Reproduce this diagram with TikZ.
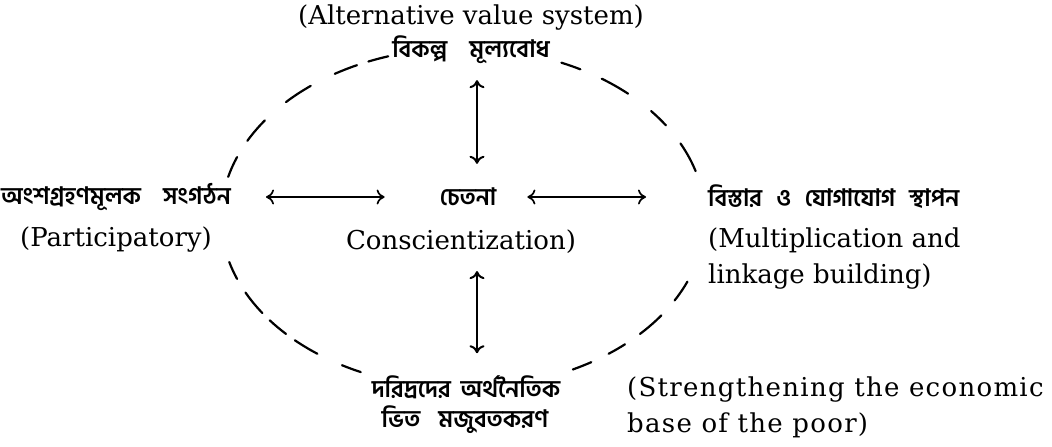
\documentclass[tikz,border=0pt]{standalone}
\usepackage{fontspec}
\setmainfont{DejaVu Serif}
\newfontfamily\bn[Script=Bengali]{Hind Siliguri}
\newfontfamily\wide[LetterSpace=5]{DejaVu Serif}
\usetikzlibrary{arrows.meta}
\begin{document}
\begin{tikzpicture}[x=1pt,y=1pt,
  en/.style={font=\fontsize{26}{30}\selectfont, inner sep=2pt},
  enw/.style={font=\wide\fontsize{26}{30}\selectfont, inner sep=2pt},
  bng/.style={font=\bn\bfseries\fontsize{24}{28}\selectfont, inner sep=2pt},
  dsh/.style={line width=2.2pt, line cap=round},
  link/.style={line width=2pt, {Computer Modern Rightarrow[length=8pt,width=15pt]}-{Computer Modern Rightarrow[length=8pt,width=15pt]}},
]
\useasboundingbox (0,0) rectangle (1052,447);
\coordinate (c) at (463,229);
% dashed hand-drawn ellipse
\foreach \a/\b in {61/66, 47/55, 33/39, 16/26, -29/-22, -43/-35, -53/-48, -63/-58,
  -120/-115, -134/-127, -143/-137, -154/-146, -165/-159,
  159/166, 145/153, 129/137, 116/122, 108/113}
  \draw[dsh] ([shift={(\a:242 and 170)}]c) arc[start angle=\a, end angle=\b, x radius=242, y radius=170];

\node[en] (title) at (471,429) {(Alternative value system)};
\node[bng] (top) at (471,397) {বিকল্প\hspace{22pt}মূল্যবোধ};

\node[bng] (leftB) at (116,250) {অংশগ্রহণমূলক\hspace{22pt}সংগঠন};
\node[en] (leftE) at (116,207) {(Participatory)};

\node[bng] (cenB) at (468,250) {চেতনা};
\node[en] (cenE) at (461,205) {Conscientization)};

\node[bng, anchor=west] (rightB) at (706,250) {বিস্তার\hspace{8pt} ও\hspace{8pt} যোগাযোগ\hspace{8pt} স্থাপন};
\node[en, anchor=west] (rightE1) at (706,207) {(Multiplication and};
\node[en, anchor=west] (rightE2) at (706,170) {linkage building)};

\node[bng] (botB1) at (466,60) {দরিদ্রদের\hspace{4pt} অর্থনৈতিক};
\node[bng] (botB2) at (465,27) {ভিত\hspace{18pt}মজুবতকরণ};

\node[enw, anchor=west] (botE1) at (625,57) {(Strengthening the economic};
\node[enw, anchor=west] (botE2) at (625,22) {base of the poor)};

\coordinate (ax) at (477,0);
\draw[link, shorten <=14pt, shorten >=22pt] (top.south -| ax) -- (cenB.north -| ax);
\draw[link, shorten <=15pt, shorten >=20pt] (cenE.south -| ax) -- (botB1.north -| ax);
\draw[link, line width=1.7pt, shorten <=33pt, shorten >=53pt] (leftB.east) -- (cenB.west);
\draw[link, line width=1.7pt, shorten <=29pt, shorten >=60pt] (cenB.east) -- (rightB.west);
\end{tikzpicture}
\end{document}
